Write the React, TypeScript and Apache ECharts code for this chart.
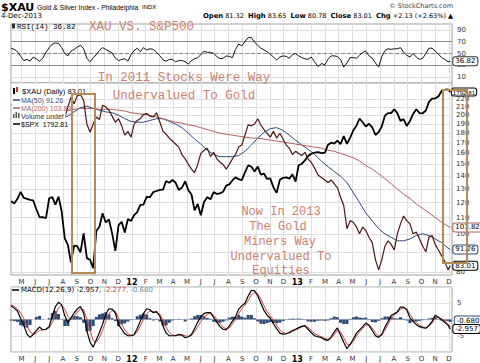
import { useEffect, useRef } from "react";
import * as echarts from "echarts";

// ---- sampling: weekly Fridays from 2011-04-08 (139 weeks) + last session 2013-12-04
const FIRST_WEEK = "2011-04-08";
const LAST_SESSION = "2013-12-04";
const WEEK_COUNT = 139;

const MONTH_LETTERS = ["J", "F", "M", "A", "M", "J", "J", "A", "S", "O", "N", "D"];
const MONTH_TICKS = [4, 5, 6, 7, 8, 9, 10, 11, 12, 13, 14, 15, 16, 17, 18, 19, 20, 21, 22, 23, 24, 25, 26, 27, 28, 29, 30, 31, 32, 33, 34, 35];
const XAU_TICKS = [80, 90, 100, 110, 120, 130, 140, 150, 160, 170, 180, 190, 200, 210, 220];
const RSI_TICKS = [10, 30, 50, 70, 90];
const RSI_LINES = [70, 50, 30];
const MACD_TICK_LABELS = [5, -5];

// $XAU weekly closes
const XAU = [
  212, 214, 218, 216, 200, 203, 205, 203, 198, 193, 191, 186, 190, 200, 204, 203, 200, 197, 210, 222, 214, 224, 226, 218, 190, 181, 190, 198, 195, 212, 210, 206, 199, 192, 196, 188, 178, 182, 176,
  190, 194, 196, 201, 202, 199, 198, 203, 192, 182, 179, 175, 172, 169, 166, 159, 155, 150, 146, 143, 150, 160, 163, 165, 157, 161, 155, 152, 150, 146, 150, 155, 159, 166, 168, 178, 189, 188, 190, 196, 189, 184, 180, 176, 182, 175, 180, 174, 168, 165, 159, 162,
  160, 158, 161, 155, 152, 147, 141, 139, 137, 135, 137, 134, 131, 124, 118, 103, 108, 107, 104, 100, 104, 102, 98, 95, 86, 81, 86, 93, 96, 94, 91, 100, 106, 111, 108, 106, 100, 101, 97, 93, 90, 98, 99, 94, 91, 88, 85, 81, 83.01,
];

// $SPX weekly closes
const SPX = [
  1328, 1320, 1337, 1363, 1340, 1337, 1333, 1331, 1300, 1271, 1271, 1268, 1339, 1343, 1316, 1345, 1292, 1199, 1178, 1123, 1176, 1174, 1154, 1216, 1136, 1131, 1105, 1224, 1238, 1285, 1253, 1263, 1216, 1159, 1244, 1255, 1219, 1265, 1258,
  1278, 1289, 1315, 1316, 1344, 1343, 1362, 1366, 1370, 1371, 1404, 1397, 1408, 1398, 1370, 1379, 1403, 1369, 1353, 1295, 1318, 1278, 1325, 1343, 1335, 1362, 1355, 1357, 1363, 1386, 1391, 1406, 1418, 1411, 1407, 1438, 1466, 1460, 1441, 1461, 1429, 1433, 1412, 1414, 1380, 1359, 1409, 1416, 1418, 1413, 1430, 1402,
  1466, 1472, 1486, 1503, 1513, 1518, 1520, 1516, 1518, 1551, 1560, 1556, 1569, 1553, 1588, 1555, 1582, 1614, 1634, 1667, 1650, 1631, 1643, 1627, 1593, 1606, 1632, 1680, 1692, 1692, 1710, 1691, 1656, 1664, 1633, 1655, 1688, 1710, 1692, 1691, 1704, 1745, 1760, 1762, 1771, 1798, 1804, 1806, 1792.81,
];

// moving averages, every second week + last session
const MA50 = [
  206, 210, 212, 210, 207, 202, 198, 196, 197, 199, 204, 209, 211, 208, 206, 204, 203, 200, 196, 193,
  192, 192, 194, 196, 196, 193, 190, 186, 180, 174, 169, 163, 159, 157, 157, 157, 158, 162, 168, 175, 181, 185, 186, 183, 178, 173,
  168, 164, 159, 153, 148, 144, 140, 135, 127, 120, 113, 108, 103, 100, 98, 96, 96, 97, 99, 100, 99, 97, 95, 92, 91.26,
];
const MA200 = [
  196, 198, 199, 200, 201, 202, 203, 204, 205, 206, 207, 208, 208, 208, 207, 207, 207, 206, 205, 203,
  202, 201, 200, 198, 196, 194, 192, 191, 189, 188, 186, 184, 182, 180, 179, 178, 177, 176, 175, 175, 174, 173, 172, 171, 170, 169,
  168, 167, 166, 165, 163, 162, 160, 158, 156, 153, 149, 146, 142, 138, 134, 130, 126, 123, 119, 116, 113, 110, 107, 104.5, 103.82,
];

// RSI(14)
const RSI = [
  59, 57, 53, 45, 38, 40, 37, 44, 41, 37, 42, 52, 60, 66, 68, 67, 60, 50, 46, 54, 57, 61, 64, 58, 42, 36, 43, 48, 55, 60, 57, 54, 51, 42, 38, 40, 41, 37, 48,
  55, 59, 53, 60, 56, 58, 57, 52, 46, 39, 37, 40, 40, 36, 38, 38, 36, 32, 38, 41, 43, 48, 54, 52, 52, 50, 45, 41, 42, 46, 45, 43, 57, 66, 63, 70, 77, 77, 69, 64, 59, 56, 53, 49, 44, 39, 44, 46, 45, 42, 48, 50,
  46, 43, 41, 40, 44, 36, 28, 33, 31, 40, 46, 46, 45, 40, 27, 34, 43, 43, 42, 47, 52, 54, 46, 42, 34, 27, 45, 55, 58, 57, 58, 58, 60, 52, 47, 44, 50, 44, 40, 42, 50, 59, 59, 54, 49, 43, 40, 36, 36.82,
];

// MACD(12,26,9)
const MACD = [
  4.2, 3.5, 2.6, 0.2, -1.8, -4.5, -5.5, -4.6, -3.4, -2.3, -3.2, -3.0, -2.2, 1.0, 4.0, 5.3, 4.5, 1.2, -1.0, 0.5, 2.0, 3.2, 4.0, 2.0, -3.5, -7.0, -8.5, -6.2, -4.0, -1.5, 1.6, 3.3, 3.2, 2.0, -1.5, -3.0, -4.4, -5.0, -5.0,
  -4.7, -2.8, -0.5, 1.8, 3.3, 3.0, 2.1, 2.4, 1.0, -2.0, -4.2, -5.0, -5.0, -5.0, -4.6, -4.8, -5.6, -5.3, -4.6, -2.8, -0.8, 0.8, 1.9, 2.1, 2.1, 0.6, -0.8, -2.2, -3.0, -3.2, -2.0, -0.5, 0.8, 3.2, 4.2, 5.0, 7.2, 9.0, 8.8, 7.3, 5.0, 2.8, 1.3, 0.4, -1.3, -2.8, -4.2, -4.5, -4.4, -4.0, -3.4, -3.0,
  -2.5, -2.1, -1.9, -3.0, -4.0, -5.0, -5.3, -5.6, -6.2, -6.4, -5.4, -3.8, -2.6, -4.8, -7.0, -9.0, -7.6, -6.0, -4.2, -3.2, -2.2, -1.1, -1.8, -3.4, -5.0, -5.5, -4.5, -2.4, -0.6, 1.2, 1.8, 2.4, 3.8, 3.8, 3.0, 0.5, -0.6, -1.6, -2.2, -2.5, -2.7, -1.8, -0.6, 1.3, 0.7, -0.1, -0.9, -1.8, -2.957,
];
const SIGNAL = [
  4.5, 4.0, 3.3, 2.0, 0.3, -2.0, -3.8, -4.6, -4.2, -3.4, -3.1, -3.0, -2.6, -1.0, 1.4, 3.6, 4.4, 3.2, 1.0, 0.1, 0.9, 2.2, 3.3, 3.0, 0.2, -3.5, -6.5, -7.0, -5.6, -3.4, -0.6, 1.7, 2.8, 2.5, 0.6, -1.5, -3.2, -4.4, -4.8,
  -4.8, -3.8, -2.0, 0.0, 1.8, 2.6, 2.4, 2.2, 1.6, -0.1, -2.4, -4.0, -4.7, -4.9, -4.8, -4.7, -5.0, -5.2, -4.9, -3.8, -2.2, -0.6, 0.8, 1.6, 1.9, 1.3, 0.1, -1.2, -2.3, -2.9, -2.6, -1.4, 0.0, 1.8, 3.3, 4.4, 5.8, 7.6, 8.4, 7.9, 6.3, 4.2, 2.4, 1.2, -0.2, -1.7, -3.2, -4.0, -4.3, -4.2, -3.7, -3.2,
  -2.8, -2.3, -2.0, -2.4, -3.3, -4.3, -4.9, -5.3, -5.8, -6.1, -5.8, -4.7, -3.3, -3.8, -5.6, -7.6, -7.8, -6.7, -5.1, -3.8, -2.7, -1.7, -1.6, -2.6, -4.1, -5.1, -4.9, -3.3, -1.5, 0.3, 1.4, 2.1, 3.1, 3.6, 3.3, 1.6, 0.1, -1.0, -1.8, -2.3, -2.6, -2.1, -1.1, 0.4, 0.6, 0.2, -0.5, -1.3, -2.277,
];
const HIST = [
  -0.3, -0.5, -0.7, -1.8, -2.1, -2.5, -1.7, 0.0, 0.8, 1.1, -0.1, 0.0, 0.4, 2.0, 2.6, 1.7, 0.1, -2.0, -2.0, 0.4, 1.1, 1.0, 0.7, -1.0, -3.7, -3.5, -2.0, 0.8, 1.6, 1.9, 2.2, 1.6, 0.4, -0.5, -2.1, -1.5, -1.2, -0.6, -0.2,
  0.1, 1.0, 1.5, 1.8, 1.5, 0.4, -0.3, 0.2, -0.6, -1.9, -1.8, -1.0, -0.3, -0.1, 0.2, -0.1, -0.6, -0.1, 0.3, 1.0, 1.4, 1.4, 1.1, 0.5, 0.2, -0.7, -0.9, -1.0, -0.7, -0.3, 0.6, 0.9, 0.8, 1.4, 0.9, 0.6, 1.4, 1.4, 0.4, -0.6, -1.3, -1.4, -1.1, -0.8, -1.1, -1.1, -1.0, -0.5, -0.1, 0.2, 0.3, 0.2,
  0.3, 0.2, 0.1, -0.6, -0.7, -0.7, -0.4, -0.3, -0.4, -0.3, 0.4, 0.9, 0.7, -1.0, -1.4, -1.4, 0.2, 0.7, 0.9, 0.6, 0.5, 0.6, -0.2, -0.8, -0.9, -0.4, 0.4, 0.9, 0.9, 0.9, 0.4, 0.3, 0.7, 0.2, -0.3, -1.1, -0.7, -0.6, -0.4, -0.2, -0.1, 0.3, 0.5, 0.9, 0.1, -0.3, -0.4, -0.5, -0.68,
];

// ---------------------------------------------------------------------------
const DAY = 86400000;
function monthPos(ms: number) {
  const d = new Date(ms);
  const y = d.getUTCFullYear();
  const m = d.getUTCMonth();
  const day = d.getUTCDate();
  const dim = new Date(Date.UTC(y, m + 1, 0)).getUTCDate();
  return (y - 2011) * 12 + m + (day - 1) / dim;
}
const WEEK_MS = Array.from({ length: WEEK_COUNT }, (_, i) => Date.parse(FIRST_WEEK) + i * 7 * DAY).concat([Date.parse(LAST_SESSION)]);
const T = WEEK_MS.map(monthPos);
const MA_T = T.filter((_, i) => i % 2 === 0 || i === T.length - 1);
const pairs = (xs: number[], ys: number[]) => xs.map((x, i) => [x, ys[i]]);

const X_MIN = 3.23;
const X_MAX = 35.22;
const SANS = "DejaVu Sans";
const NARROW = "Liberation Sans";
const MONO = "Liberation Mono";
const NOTE = "#cd7f6b";
const BOX = "#b58a55";
const GRID_LINE = "#dedede";
const NAVY = "#2d4a7c";
const MA200_C = "#b45f5f";
const SIGNAL_C = "#d0473f";
const HIST_C = "#2b4a78";
const XAU_C = "#4d1515";

function monthLabel(v: number) {
  const k = Math.round(v);
  const m = k % 12;
  return m === 0 ? `{yr|${11 + k / 12}}` : MONTH_LETTERS[m];
}

function xAxis(gridIndex: number, opts: { labels: boolean; split: boolean; position?: string; z?: number }) {
  return {
    type: "value",
    gridIndex,
    min: X_MIN,
    max: X_MAX,
    position: opts.position || "bottom",
    z: opts.z ?? 0,
    axisLine: { show: false },
    axisTick: { show: false, customValues: MONTH_TICKS },
    axisLabel: {
      show: opts.labels,
      customValues: MONTH_TICKS,
      formatter: monthLabel,
      fontSize: 7,
      color: "#333",
      margin: 3,
      fontFamily: SANS,
      rich: { yr: { fontSize: 8, fontWeight: "bold", color: "#000", fontFamily: SANS } },
    },
    splitLine: { show: opts.split, lineStyle: { color: GRID_LINE, width: 1 } },
  };
}

function boxLabel(border: string, digits: number, extra: any = {}) {
  return {
    show: true,
    formatter: (p: any) => Number(p.value[1]).toFixed(digits),
    fontSize: 7,
    fontFamily: SANS,
    color: "#000",
    backgroundColor: "#fff",
    borderColor: border,
    borderWidth: 1,
    borderRadius: 2,
    padding: [1, 2, 0, 2],
    distance: 3,
    ...extra,
  };
}

function txt(x: number, y: number, text: string, style: any = {}, z = 60) {
  return {
    type: "text",
    x,
    y,
    z,
    style: {
      text,
      fontSize: 7,
      fontFamily: SANS,
      fill: "#000",
      textAlign: "left",
      textVerticalAlign: "middle",
      ...style,
    },
  };
}
function seg(x1: number, y1: number, x2: number, y2: number, stroke: string, lineWidth: number, z = 60) {
  return { type: "line", z, shape: { x1, y1, x2, y2 }, style: { stroke, lineWidth } };
}
function box(x: number, y: number, width: number, height: number, style: any, z = 60) {
  return { type: "rect", z, shape: { x, y, width, height }, style };
}

function buildOption(): any {
  const gridBase = { show: true, borderColor: "#a0a0a0", borderWidth: 1, backgroundColor: "#fff", containLabel: false, outerBoundsMode: "none" };
  const noteStyle = { fontFamily: MONO, fontSize: 12.5, fill: NOTE, textAlign: "center" };
  const lowerNote = { ...noteStyle, fontSize: 12 };

  const graphic: any[] = [
    // header
    txt(1, 7, "$XAU", { fontSize: 11, fontWeight: "bold" }),
    txt(37, 7, "Gold & Silver Index - Philadelphia  {s|INDX}", {
      fontSize: 6.8,
      fontFamily: NARROW,
      rich: { s: { fontSize: 6, fontFamily: NARROW, fill: "#000" } },
    }),
    txt(453, 6, "\u00a9 StockCharts.com", { fontSize: 6.5, textAlign: "right", fill: "#444" }),
    txt(1, 16, "4-Dec-2013", { fontSize: 7 }),
    txt(
      453,
      16,
      "{b|Open} 81.32  {b|High} 83.65  {b|Low} 80.78  {b|Close} 83.01  {b|Chg} +2.13 (+2.63%) \u25B2",
      { fontSize: 6.5, textAlign: "right", rich: { b: { fontSize: 6.8, fontWeight: "bold", fontFamily: SANS, fill: "#000" } } }
    ),
    // RSI legend
    box(12, 23.5, 3, 5, { fill: "#333" }),
    txt(17, 26.5, "RSI(14) 36.82", { fontSize: 7.5, fontFamily: MONO }),
    // main legend
    box(11.5, 83.5, 54, 45, { fill: "#fff" }, 20),
    box(13, 88, 2, 6, { fill: "#000" }, 21),
    box(16, 87, 2, 5, { fill: "#c33" }, 21),
    txt(22, 91, "$XAU (Daily) 83.01", { fontSize: 7.5, fontFamily: NARROW }, 21),
    seg(13, 100, 20, 100, NAVY, 1.5, 21),
    txt(21, 100, "MA(50) 91.26", { fontFamily: NARROW, fill: NAVY }, 21),
    seg(13, 108, 20, 108, MA200_C, 1.5, 21),
    txt(21, 108, "MA(200) 103.82", { fontFamily: NARROW, fill: MA200_C }, 21),
    box(13, 114, 1.5, 4, { fill: "#555" }, 21),
    box(15.5, 112, 1.5, 6, { fill: "#555" }, 21),
    box(18, 113, 1.5, 5, { fill: "#555" }, 21),
    txt(21, 116, "Volume undef", { fontFamily: NARROW, fill: "#333" }, 21),
    seg(13, 124, 20, 124, "#000", 1.5, 21),
    txt(21, 124, "$SPX  1792.81", { fontFamily: NARROW }, 21),
    // MACD legend
    seg(12, 290, 19, 290, "#000", 1.5),
    txt(21, 290, "MACD(12,26,9) -2.957, {r|-2.277,} {g|-0.680}", {
      fontSize: 7,
      rich: {
        r: { fill: SIGNAL_C, fontSize: 7, fontFamily: SANS },
        g: { fill: "#6f8fae", fontSize: 7, fontFamily: SANS },
      },
    }),
    // annotations
    txt(89, 27, "XAU VS. S&P500", { fontFamily: MONO, fontSize: 12.5, fill: NOTE }, 50),
    txt(184, 78, "In 2011 Stocks Were Way", noteStyle, 50),
    txt(184, 96, "Undervalued To Gold", noteStyle, 50),
    txt(281, 212, "Now In 2013", lowerNote, 50),
    txt(278, 227, "The Gold", lowerNote, 50),
    txt(280, 242, "Miners Way", lowerNote, 50),
    txt(281, 257, "Undervalued To", lowerNote, 50),
    txt(281, 271, "Equities", lowerNote, 50),
    box(72, 94, 23, 179, { fill: "none", stroke: BOX, lineWidth: 2 }, 52),
    box(443, 90, 24, 173, { fill: "none", stroke: BOX, lineWidth: 2 }, 52),
  ];

  return {
    animation: false,
    backgroundColor: "#fff",
    textStyle: { fontFamily: SANS },
    grid: [
      { ...gridBase, left: 11, top: 24, width: 441, height: 59 },
      { ...gridBase, left: 11, top: 83, width: 441, height: 192 },
      { ...gridBase, left: 11, top: 287, width: 441, height: 65 },
    ],
    xAxis: [
      xAxis(0, { labels: false, split: true }),
      xAxis(1, { labels: false, split: true, position: "top" }),
      xAxis(1, { labels: true, split: false, position: "bottom", z: 100 }),
      xAxis(2, { labels: true, split: true }),
    ],
    yAxis: [
      {
        gridIndex: 0,
        type: "value",
        min: 0,
        max: 100,
        position: "right",
        axisLine: { show: false },
        axisTick: { show: false, customValues: RSI_TICKS },
        axisLabel: { customValues: RSI_TICKS, fontSize: 7, color: "#333", margin: 5, fontFamily: SANS },
        splitLine: { show: true, lineStyle: { color: GRID_LINE } },
      },
      { gridIndex: 1, type: "log", min: 78.6, max: 241.5, show: false, splitLine: { show: false } },
      { gridIndex: 1, type: "log", min: 1084.5, max: 1837.7, show: false, splitLine: { show: false } },
      {
        gridIndex: 2,
        type: "value",
        min: -10,
        max: 10,
        interval: 5,
        position: "right",
        axisLine: { show: false },
        axisTick: { show: false },
        axisLabel: {
          fontSize: 7,
          color: "#333",
          margin: 5,
          fontFamily: SANS,
          formatter: (v: number) => (MACD_TICK_LABELS.includes(v) ? String(v) : ""),
        },
        splitLine: { show: true, lineStyle: { color: GRID_LINE } },
      },
    ],
    series: [
      {
        name: "RSI(14)",
        type: "line",
        xAxisIndex: 0,
        yAxisIndex: 0,
        data: pairs(T, RSI),
        symbol: "none",
        lineStyle: { color: "#111", width: 1 },
        z: 4,
        endLabel: boxLabel("#333", 2),
        markLine: {
          silent: true,
          symbol: "none",
          z: 1,
          label: { show: false },
          data: RSI_LINES.map((v) => ({
            yAxis: v,
            lineStyle: { color: "#8a8a8a", width: 1, type: v === 50 ? "dashed" : "solid" },
          })),
        },
      },
      {
        name: "$XAU",
        type: "line",
        xAxisIndex: 1,
        yAxisIndex: 1,
        data: pairs(T, XAU),
        symbol: "none",
        lineStyle: { color: XAU_C, width: 1.2 },
        z: 4,
        endLabel: boxLabel("#000", 2),
        markLine: {
          silent: true,
          symbol: "none",
          z: 1,
          lineStyle: { color: GRID_LINE, width: 1, type: "solid" },
          label: { show: true, position: "end", formatter: "{c}", fontSize: 7, color: "#333", fontFamily: SANS, distance: 4 },
          data: XAU_TICKS.map((v) => ({ yAxis: v })),
        },
      },
      {
        name: "MA(50)",
        type: "line",
        xAxisIndex: 1,
        yAxisIndex: 1,
        data: pairs(MA_T, MA50),
        symbol: "none",
        lineStyle: { color: NAVY, width: 1 },
        z: 3,
        endLabel: boxLabel(NAVY, 2),
      },
      {
        name: "MA(200)",
        type: "line",
        xAxisIndex: 1,
        yAxisIndex: 1,
        data: pairs(MA_T, MA200),
        symbol: "none",
        lineStyle: { color: MA200_C, width: 1 },
        z: 3,
        endLabel: boxLabel(MA200_C, 2),
      },
      {
        name: "$SPX",
        type: "line",
        xAxisIndex: 1,
        yAxisIndex: 2,
        data: pairs(T, SPX),
        symbol: "none",
        lineStyle: { color: "#000", width: 1.8 },
        z: 3,
        endLabel: boxLabel("#000", 2, { fontFamily: NARROW, fontSize: 6.2, padding: [1, 1, 0, 1], distance: 1.5 }),
      },
      {
        name: "Histogram",
        type: "bar",
        xAxisIndex: 3,
        yAxisIndex: 3,
        barWidth: 3,
        itemStyle: { color: HIST_C },
        z: 2,
        data: T.map((t, i) =>
          i === T.length - 1
            ? {
                value: [t, HIST[i]],
                label: {
                  show: true,
                  position: "right",
                  formatter: (p: any) => Number(p.value[1]).toFixed(3),
                  fontSize: 7,
                  fontFamily: SANS,
                  color: "#000",
                  backgroundColor: "#fff",
                  borderColor: NAVY,
                  borderWidth: 1,
                  borderRadius: 2,
                  padding: [1, 2, 0, 2],
                  distance: 3,
                },
              }
            : [t, HIST[i]]
        ),
      },
      {
        name: "Signal",
        type: "line",
        xAxisIndex: 3,
        yAxisIndex: 3,
        data: pairs(T, SIGNAL),
        symbol: "none",
        lineStyle: { color: SIGNAL_C, width: 1 },
        z: 3,
      },
      {
        name: "MACD",
        type: "line",
        xAxisIndex: 3,
        yAxisIndex: 3,
        data: pairs(T, MACD),
        symbol: "none",
        lineStyle: { color: "#000", width: 1.2 },
        z: 4,
        endLabel: boxLabel("#000", 3),
      },
    ],
    graphic,
  };
}

export default function App() {
  const ref = useRef<HTMLDivElement>(null);
  useEffect(() => {
    if (!ref.current) return;
    const chart = echarts.init(ref.current, null, { renderer: "svg" });
    chart.setOption(buildOption());
    return () => chart.dispose();
  }, []);
  return (
    <div
      ref={ref}
      style={{ position: "fixed", left: 0, top: 0, width: 480, height: 363, background: "#fff" }}
    />
  );
}
